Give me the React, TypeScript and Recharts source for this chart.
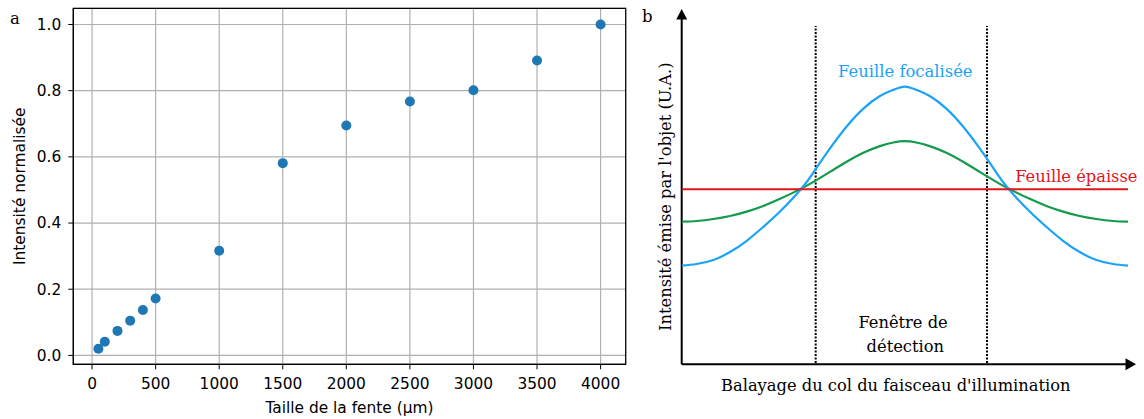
import React from 'react';
import {
  ScatterChart, Scatter, XAxis, YAxis, CartesianGrid, ReferenceArea,
  ComposedChart, Line, ReferenceLine, ReferenceDot,
} from 'recharts';

// ---- Panel a data ----
const slitSizes = [50, 100, 200, 300, 400, 500, 1000, 1500, 2000, 2500, 3000, 3500, 4000];
const normIntensity = [0.020, 0.041, 0.074, 0.105, 0.137, 0.172, 0.316, 0.581, 0.695, 0.767, 0.801, 0.891, 1.0];
const aXTicks = [0, 500, 1000, 1500, 2000, 2500, 3000, 3500, 4000];
const aYTicks = [0, 0.2, 0.4, 0.6, 0.8, 1.0];

// ---- Panel b data (arbitrary units) ----
const scanPos = [0, 3.35, 7.09, 10.82, 14.56, 18.29, 22.03, 26.88, 30.09, 33.23, 36.96, 40.7, 44.43, 47.42, 50,
  52.58, 55.57, 59.3, 63.04, 66.77, 69.91, 73.12, 77.97, 81.71, 85.44, 89.18, 92.91, 96.65, 100];
const focusedSheet = [27.76, 28.23, 29.35, 31.59, 34.77, 38.69, 42.99, 49.54, 55.06, 60.77, 66.92, 71.97, 75.51, 77.24, 78.14,
  77.24, 75.51, 71.97, 66.92, 60.77, 55.06, 49.54, 42.99, 38.69, 34.77, 31.59, 29.35, 28.23, 27.76];
const middleSheet = [40.14, 40.33, 40.89, 41.75, 42.98, 44.58, 46.56, 49.52, 51.77, 54.16, 56.99, 59.53, 61.4, 62.42, 62.81,
  62.42, 61.4, 59.53, 56.99, 54.16, 51.77, 49.52, 46.56, 44.58, 42.98, 41.75, 40.89, 40.33, 40.14];
const thickPos = [0, 100];
const thickSheet = [49.25, 49.25];
const windowEdges = [30.02, 68.41];
const windowSpan = [0.37, 95.2];
const bXMax = 101.79;
const bYMax = 100;

const scatterData = slitSizes.map((x, i) => ({ x, y: normIntensity[i] }));
const blueData = scanPos.map((x, i) => ({ x, v: focusedSheet[i] }));
const greenData = scanPos.map((x, i) => ({ x, v: middleSheet[i] }));
const redData = thickPos.map((x, i) => ({ x, v: thickSheet[i] }));

const SANS = 'DejaVu Sans';
const SERIF = 'DejaVu Serif';
const BLUE = '#1ba3f5';
const GREEN = '#139a4b';
const RED = '#e0161b';

const textShape = (txt: string, color: string, size: number, angle = 0) => (p: any) => (
  <text
    x={p.cx}
    y={p.cy}
    fill={color}
    fontSize={size}
    fontFamily={SERIF}
    textAnchor="middle"
    dominantBaseline="central"
    transform={angle ? `rotate(${angle}, ${p.cx}, ${p.cy})` : undefined}
  >
    {txt}
  </text>
);

const arrowRight = (p: any) => (
  <polygon points={`${p.cx},${p.cy} ${p.cx - 10.5},${p.cy - 6} ${p.cx - 10.5},${p.cy + 6}`} fill="#000" />
);
const arrowUp = (p: any) => (
  <polygon points={`${p.cx},${p.cy} ${p.cx - 5.5},${p.cy + 10.5} ${p.cx + 5.5},${p.cy + 10.5}`} fill="#000" />
);

export default function App() {
  return (
    <div style={{ position: 'absolute', left: 0, top: 0, width: 1144, height: 419, background: '#fff', overflow: 'hidden' }}>
      <span style={{ position: 'absolute', left: 10, top: 8, fontFamily: SERIF, fontSize: 16.5, lineHeight: '22px' }}>a</span>
      <span style={{ position: 'absolute', left: 642, top: 6, fontFamily: SERIF, fontSize: 16.5, lineHeight: '22px' }}>b</span>

      <div style={{ position: 'absolute', left: 0, top: 0 }}>
        <ScatterChart width={640} height={419} margin={{ top: 8.3, right: 14.3, bottom: 0, left: 0.3 }}>
          <CartesianGrid stroke="#b0b0b0" strokeWidth={1.2} />
          <XAxis
            type="number"
            dataKey="x"
            domain={[-147.5, 4197.5]}
            ticks={aXTicks}
            allowDataOverflow
            height={54.7}
            tickSize={5}
            tickMargin={8.5}
            stroke="#000"
            tick={{ fontSize: 15.4, fill: '#000', fontFamily: SANS }}
            label={{ value: 'Taille de la fente (µm)', position: 'insideBottom', offset: 6.5, fill: '#000', fontSize: 15.4, fontFamily: SANS }}
          />
          <YAxis
            type="number"
            dataKey="y"
            domain={[-0.0269, 1.0489]}
            ticks={aYTicks}
            allowDataOverflow
            width={73}
            tickSize={5}
            tickMargin={7}
            stroke="#000"
            tickFormatter={(v: number) => v.toFixed(1)}
            tick={{ fontSize: 15.4, fill: '#000', fontFamily: SANS }}
            label={{ value: 'Intensité normalisée', angle: -90, position: 'insideLeft', offset: 19.7, fill: '#000', fontSize: 15.4, fontFamily: SANS, style: { textAnchor: 'middle' } }}
          />
          <ReferenceArea x1={-147.5} x2={4197.5} y1={-0.0269} y2={1.0489} fill="none" fillOpacity={0} stroke="#000" strokeWidth={1.2} ifOverflow="visible" />
          <Scatter
            data={scatterData}
            isAnimationActive={false}
            fill="#1f77b4"
            shape={(p: any) => <circle cx={p.cx} cy={p.cy} r={5} fill="#1f77b4" />}
          />
        </ScatterChart>
      </div>

      <div style={{ position: 'absolute', left: 640, top: 0 }}>
        <ComposedChart width={504} height={419} margin={{ top: 9, right: 8, bottom: 54.7, left: 41.7 }}>
          <XAxis type="number" dataKey="x" domain={[0, bXMax]} allowDataOverflow hide />
          <YAxis type="number" domain={[0, bYMax]} allowDataOverflow hide />
          <ReferenceLine segment={[{ x: 0, y: 0 }, { x: bXMax - 1, y: 0 }]} stroke="#000" strokeWidth={2} ifOverflow="visible" />
          <ReferenceLine segment={[{ x: 0, y: 0 }, { x: 0, y: bYMax - 1 }]} stroke="#000" strokeWidth={2} ifOverflow="visible" />
          {windowEdges.map((x) => (
            <ReferenceLine
              key={x}
              segment={[{ x, y: windowSpan[0] }, { x, y: windowSpan[1] }]}
              stroke="#000"
              strokeWidth={2}
              strokeDasharray="2 1.5"
            />
          ))}
          <Line data={greenData} dataKey="v" type="natural" stroke={GREEN} strokeWidth={2.2} dot={false} isAnimationActive={false} />
          <Line data={blueData} dataKey="v" type="natural" stroke={BLUE} strokeWidth={2.2} dot={false} isAnimationActive={false} />
          <Line data={redData} dataKey="v" type="linear" stroke={RED} strokeWidth={2} dot={false} isAnimationActive={false} />
          <ReferenceDot x={bXMax} y={0} ifOverflow="visible" shape={arrowRight} />
          <ReferenceDot x={0} y={bYMax} ifOverflow="visible" shape={arrowUp} />
          <ReferenceDot x={50.1} y={82.35} ifOverflow="visible" shape={textShape('Feuille focalisée', BLUE, 16.4)} />
          <ReferenceDot x={88.42} y={52.86} ifOverflow="visible" shape={textShape('Feuille épaisse', RED, 16.3)} />
          <ReferenceDot x={49.6} y={11.63} ifOverflow="visible" shape={textShape('Fenêtre de', '#000', 16.3)} />
          <ReferenceDot x={50.1} y={4.95} ifOverflow="visible" shape={textShape('détection', '#000', 16.3)} />
          <ReferenceDot x={47.97} y={-6.02} ifOverflow="visible" shape={textShape("Balayage du col du faisceau d'illumination", '#000', 16.3)} />
          <ReferenceDot x={-3.74} y={47.17} ifOverflow="visible" shape={textShape("Intensité émise par l'objet (U.A.)", '#000', 16.3, -90)} />
        </ComposedChart>
      </div>
    </div>
  );
}
